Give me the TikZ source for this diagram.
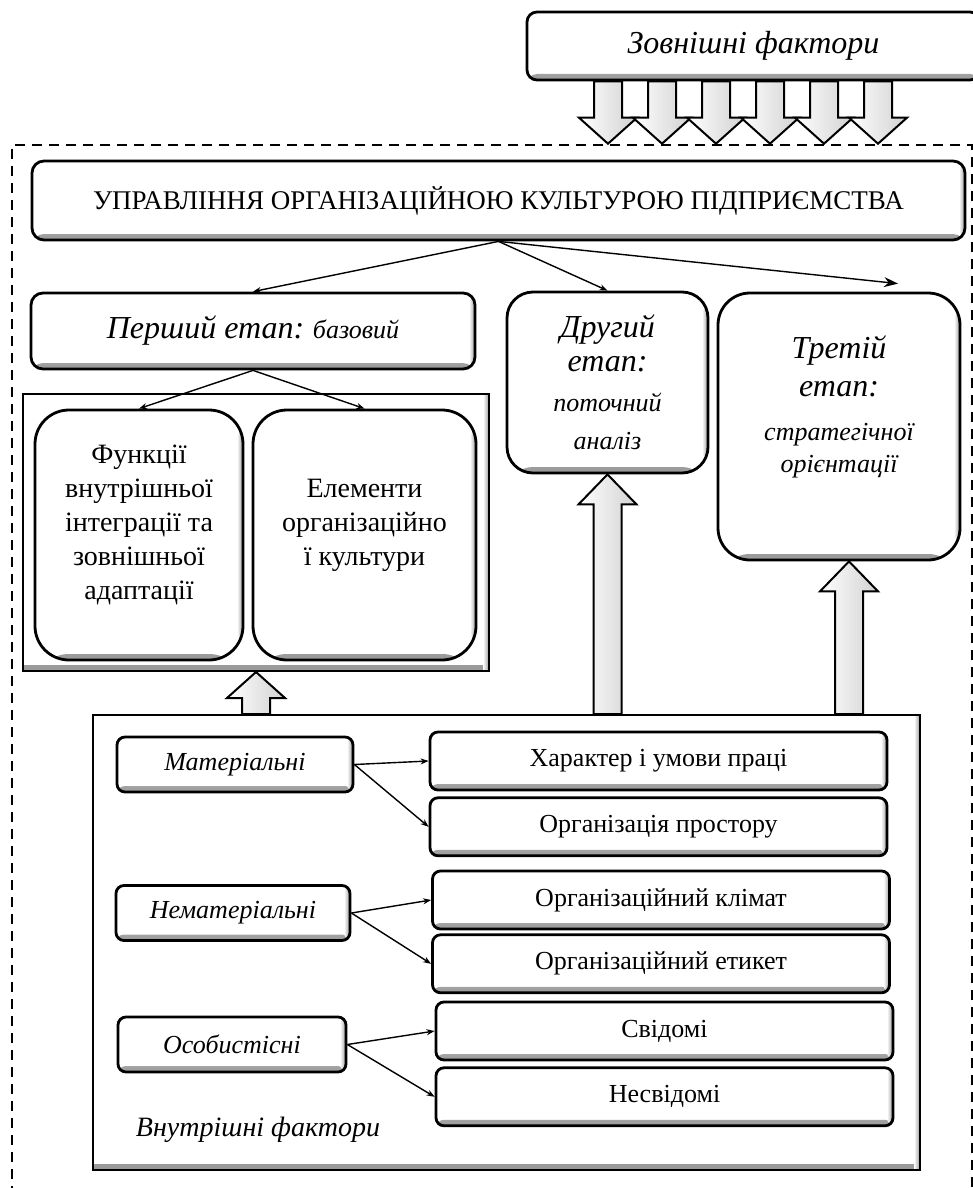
\documentclass[tikz,border=0pt]{standalone}
\usepackage{fontspec}
\setmainfont{Liberation Serif}
\usetikzlibrary{positioning,arrows.meta,calc}

\newcommand{\fsbig}{\fontsize{16}{19}\selectfont\itshape}
\newcommand{\fssmall}{\fontsize{13}{17}\selectfont\itshape}

% hollow block arrow: base, tip, head length
\newcommand{\blockarrow}[3]{%
  \draw[blockarr] let \p1=#1, \p2=#2 in
    (\x1-7pt,\y1) -- (\x1-7pt,{\y2-(#3)}) -- (\x1-14.5pt,{\y2-(#3)}) -- (\x1,\y2)
    -- (\x1+14.5pt,{\y2-(#3)}) -- (\x1+7pt,{\y2-(#3)}) -- (\x1+7pt,\y1) -- cycle;}

\begin{document}
\begin{tikzpicture}[
    x=0.5pt, y=-0.5pt,
    every node/.style={font=\fontsize{13}{16}\selectfont, align=center, inner sep=2pt},
    bevel/.style={path picture={
        \shade[top color=white, bottom color=black!40]
          ([yshift=3pt]path picture bounding box.south west) rectangle (path picture bounding box.south east);
        \shade[left color=white, right color=black!40]
          ([xshift=-3pt]path picture bounding box.north east) rectangle (path picture bounding box.south east);}},
    box/.style={draw, fill=white, line width=1.4pt, rounded corners=5pt, bevel},
    panel/.style={draw, fill=white, line width=1pt, bevel},
    item/.style={box, rounded corners=4pt, minimum width=228.5pt, minimum height=29pt},
    kind/.style={box, rounded corners=4pt, font=\fontsize{13}{16}\selectfont\itshape, minimum height=27.5pt},
    arrow/.style={-{Stealth[length=4pt, width=3pt]}, line width=0.7pt},
    blockarr/.style={draw, line width=1pt, left color=white, right color=black!18},
    dashframe/.style={draw, line width=1.3pt, dash pattern=on 5pt off 3.5pt}
]
    \useasboundingbox (0,0) rectangle (973,1188);

    % Outer dashed border of the enterprise
    \node[dashframe, minimum width=480pt, minimum height=542.5pt] (org) at (492,687.5) {};

    % External factors
    \node[box, rounded corners=5pt, minimum width=226.5pt, minimum height=34pt, font=\fsbig] (ext) at (753.5,46) {Зовнішні фактори};

    % Management and the three stages
    \node[box, rounded corners=6pt, minimum width=466.5pt, minimum height=39.5pt, font=\fontsize{13.5}{16}\selectfont] (main) at (498.5,200.5) {УПРАВЛІННЯ ОРГАНІЗАЦІЙНОЮ КУЛЬТУРОЮ ПІДПРИЄМСТВА};
    \node[box, rounded corners=6pt, minimum width=222pt, minimum height=38pt] (first) at (253,331) {{\fsbig Перший етап:} {\fssmall базовий}};
    \node[box, rounded corners=13pt, minimum width=100.5pt, minimum height=90.5pt, text depth=-11pt] (second) at (607.5,382.5) {\fsbig Другий\\[1pt] \fsbig етап:\\[4pt] \fssmall поточний\\[3pt] \fssmall аналіз};
    \node[box, rounded corners=16pt, minimum width=121pt, minimum height=133.5pt, text depth=22pt] (third) at (839,426.5) {\fsbig Третій\\[3pt] \fsbig етап:\\[6pt] \fssmall стратегічної\\ \fssmall орієнтації};

    % First stage content
    \node[panel, minimum width=233pt, minimum height=138.5pt] (frame) at (256,532.5) {};
    \node[box, rounded corners=17pt, minimum width=104pt, minimum height=125pt, text depth=13pt, font=\fontsize{14}{17}\selectfont] (func) at (139,535) {Функції\\внутрішньої\\інтеграції та\\зовнішньої\\адаптації};
    \node[box, rounded corners=17pt, minimum width=111.5pt, minimum height=125pt, text depth=13pt, font=\fontsize{14}{17}\selectfont] (elem) at (364.5,535) {Елементи\\організаційно\\ї культури};

    % Internal factors
    \node[panel, minimum width=413.5pt, minimum height=227.5pt] (inner) at (506.5,942.5) {};
    \node[font=\fontsize{14}{17}\selectfont\itshape] (innerlbl) at (258,1130) {Внутрішні фактори};

    \node[kind, minimum width=118pt] (mat) at (235,764.5) {Матеріальні};
    \node[kind, minimum width=117pt] (nemat) at (233,913) {Нематеріальні};
    \node[kind, minimum width=114pt] (osob) at (232,1044.5) {Особистісні};

    \node[item] (char) at (658.5,761) {Характер і умови праці};
    \node[item, below=2.5pt of char] (space) {Організація простору};
    \node[item] (clim) at (661,900) {Організаційний клімат};
    \node[item, below=1.5pt of clim] (etiq) {Організаційний етикет};
    \node[item] (consc) at (664.5,1031) {Свідомі};
    \node[item, below=2.5pt of consc] (uncon) {Несвідомі};

    % Draw arrows
    \draw[arrow] (main.south) -- (first.north);
    \draw[arrow] (main.south) -- (second.north);
    \draw[arrow, -{Stealth[length=7pt, width=5pt]}] (main.south) -- ([xshift=29.5pt, yshift=4pt]third.north);
    \draw[arrow] (first.south) -- (func.north);
    \draw[arrow] (first.south) -- (elem.north);
    \foreach \k/\a/\b in {mat/char/space, nemat/clim/etiq, osob/consc/uncon} {
        \draw[arrow] (\k.east) -- (\a.west);
        \draw[arrow] (\k.east) -- (\b.west);
    }

    % Block arrows
    \foreach \dx in {-72.75,-45.75,-18.75,8.25,35.25,62.25}
        \blockarrow{([xshift=\dx pt]ext.south)}{([xshift=\dx pt]ext.south |- org.north)}{-13pt};
    \blockarrow{(frame.south |- inner.north)}{(frame.south)}{13pt};
    \blockarrow{(second.south |- inner.north)}{(second.south)}{15pt};
    \blockarrow{([xshift=5pt]third.south |- inner.north)}{([xshift=5pt]third.south)}{15pt};
\end{tikzpicture}
\end{document}
